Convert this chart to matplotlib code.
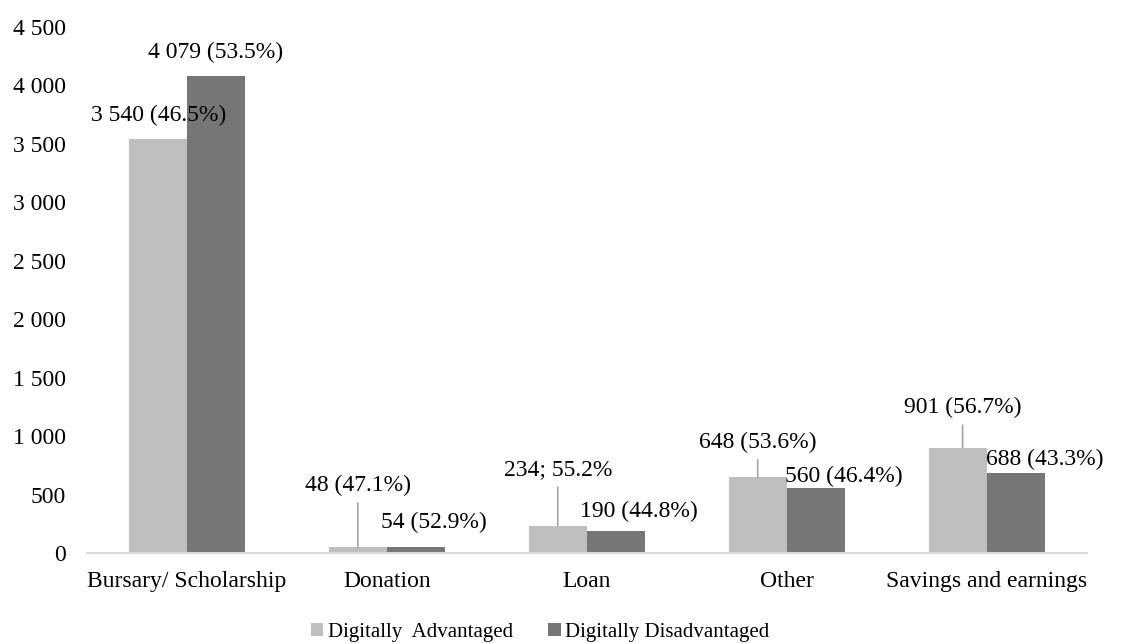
import matplotlib.pyplot as plt
from matplotlib.ticker import FuncFormatter

plt.rcParams['font.family'] = ['Liberation Serif', 'DejaVu Serif']

categories = ["Bursary/ Scholarship", "Donation", "Loan", "Other", "Savings and earnings"]
advantaged = [3540, 48, 234, 648, 901]
disadvantaged = [4079, 54, 190, 560, 688]
adv_labels = ["3 540 (46.5%)", "48 (47.1%)", "234; 55.2%", "648 (53.6%)", "901 (56.7%)"]
dis_labels = ["4 079 (53.5%)", "54 (52.9%)", "190 (44.8%)", "560 (46.4%)", "688 (43.3%)"]

# label placement: (dx, dy) in pixels from the bar top, and whether a leader line is drawn
adv_offsets = [(1, 24, False), (0, 62, True), (0, 56, True), (0, 35, True), (5, 40, True)]
dis_offsets = [(0, 24, False), (18, 24, False), (23, 19, False), (28, 11, False), (29, 13, False)]

light = "#BFBFBF"
dark = "#767676"
width = 0.29
fs = 17

fig = plt.figure(figsize=(11.36, 6.43), dpi=100)
ax = fig.add_axes([0.0765, 0.140, 0.880, 0.818])

x = list(range(len(categories)))
xa = [i - width / 2 for i in x]
xd = [i + width / 2 for i in x]
ax.bar(xa, advantaged, width, color=light, label="Digitally  Advantaged")
ax.bar(xd, disadvantaged, width, color=dark, label="Digitally Disadvantaged")

px = 200.0  # pixels per category on the x axis


def put_labels(xs, vals, texts, offsets):
    for xi, v, t, (dx, dy, lead) in zip(xs, vals, texts, offsets):
        props = None
        if lead:
            props = dict(arrowstyle="-", color="#A6A6A6", lw=1.2, shrinkA=3, shrinkB=0)
        ax.annotate(t, xy=(xi + dx / px, v), xytext=(0, dy), textcoords="offset pixels",
                    ha="center", va="center", fontsize=fs, color="black",
                    arrowprops=props)


put_labels(xa, advantaged, adv_labels, adv_offsets)
put_labels(xd, disadvantaged, dis_labels, dis_offsets)

ax.set_xlim(-0.5, len(categories) - 0.5)
ax.set_ylim(0, 4500)
ax.set_yticks(range(0, 4501, 500))
ax.yaxis.set_major_formatter(FuncFormatter(lambda v, p: f"{int(v):,}".replace(",", " ")))
ax.set_xticks(x)
ax.set_xticklabels(categories)
ax.tick_params(axis="both", length=0, labelsize=fs, colors="black")
ax.tick_params(axis="y", pad=15)
ax.tick_params(axis="x", pad=13)

for side in ["top", "right", "left"]:
    ax.spines[side].set_visible(False)
ax.spines["bottom"].set_color("#D9D9D9")
ax.spines["bottom"].set_linewidth(1.5)

fig.legend(*ax.get_legend_handles_labels(), loc="center",
           bbox_to_anchor=(540 / 1136, 0.016), ncol=2, frameon=False,
           fontsize=15, handlelength=0.6, handleheight=0.6, handletextpad=0.2,
           columnspacing=1.7, borderpad=0)

fig.savefig("out.png", dpi=100)
